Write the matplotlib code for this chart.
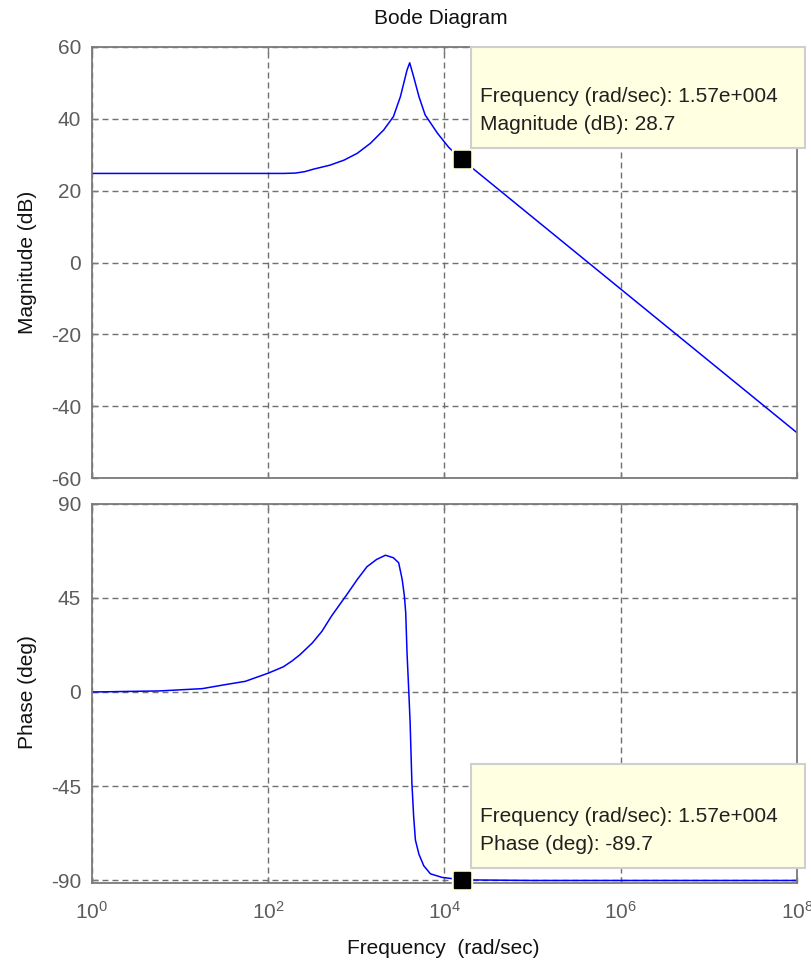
import matplotlib
matplotlib.use("Agg")
import matplotlib.pyplot as plt
from matplotlib.patches import Rectangle

plt.rcParams['font.family'] = ['Liberation Sans', 'DejaVu Sans']
plt.rcParams['mathtext.fontset'] = 'custom'
plt.rcParams['mathtext.rm'] = 'Liberation Sans'
plt.rcParams['axes.unicode_minus'] = False

# Magnitude response (rad/sec, dB)
mag_freq = [1, 150, 204, 260, 327, 501, 724, 1023, 1445, 2042, 2630, 3162, 3758, 4027,
            4467, 5129, 6026, 8318, 11220, 15700, 1e5, 1e6, 1e7, 1e8]
mag_db = [24.8, 24.8, 24.9, 25.3, 26.0, 27.1, 28.5, 30.4, 33.2, 36.9, 40.6, 46.2, 53.6, 55.6,
          51.7, 46.2, 41.1, 36.0, 32.0, 28.7, 12.6, -7.4, -27.4, -47.4]

# Phase response (rad/sec, deg)
phase_freq = [1, 5.8, 17.8, 32.4, 55, 100, 148, 186, 229, 316, 407, 525, 776, 1023,
              1318, 1698, 2138, 2630, 3020, 3311, 3508, 3631, 3758, 3936, 4074,
              4266, 4467, 4677, 5129, 5821, 6918, 9333, 15700, 1e5, 1e8]
phase_deg = [0, 0.5, 1.6, 3.5, 5.1, 9.0, 12.0, 14.8, 17.8, 23.4, 29.0, 36.4, 46.4, 53.7,
             59.8, 63.3, 65.3, 64.1, 61.7, 53.7, 45.7, 37.8, 18.5, 0, -14.8,
             -43.5, -59.5, -70.7, -77.5, -83.0, -86.8, -88.5, -89.7, -90, -90]

# Data tip values
tip_freq = 15700
tip_mag = 28.7
tip_phase = -89.7

mag_ticks = [-60, -40, -20, 0, 20, 40, 60]
phase_ticks = [-90, -45, 0, 45, 90]
freq_ticks = [1, 1e2, 1e4, 1e6, 1e8]
freq_labels = [r'$\mathregular{10^{0}}$', r'$\mathregular{10^{2}}$', r'$\mathregular{10^{4}}$',
               r'$\mathregular{10^{6}}$', r'$\mathregular{10^{8}}$']

W, H = 812, 961
FS = 15
AX_COLOR = '#7a7a7a'
TICK_TXT = '#5c5c5c'
TIP_FACE = '#ffffe1'


def fx(x):
    return x / W


def fy(y):
    return 1 - y / H


fig = plt.figure(figsize=(W / 100, H / 100), dpi=100)
fig.patch.set_facecolor('white')

left, right = 92, 797
ax1 = fig.add_axes([fx(left), fy(478), (right - left) / W, (478 - 47) / H])
ax2 = fig.add_axes([fx(left), fy(883), (right - left) / W, (883 - 503.5) / H])

for ax in (ax1, ax2):
    ax.set_xscale('log')
    ax.set_xlim(1, 1e8)
    ax.set_xticks(freq_ticks)
    ax.minorticks_off()
    ax.grid(True, color='#707070', linestyle=(0, (4.3, 2.9)), linewidth=1.0)
    for sp in ax.spines.values():
        sp.set_color(AX_COLOR)
        sp.set_linewidth(1.3)
    ax.tick_params(direction='in', length=4, width=1.0, color=AX_COLOR,
                   labelsize=FS, labelcolor=TICK_TXT, top=True, right=True)
    ax.set_axisbelow(True)

ax1.plot(mag_freq, mag_db, color='#0000ff', linewidth=1.1)
ax1.set_ylim(-60, 60)
ax1.set_yticks(mag_ticks)
ax1.tick_params(labelbottom=False, pad=8)

ax2.plot(phase_freq, phase_deg, color='#0000ff', linewidth=1.1)
ax2.set_ylim(-91.2, 90)
ax2.set_yticks(phase_ticks)
ax2.set_xticklabels(freq_labels)
ax2.tick_params(axis='y', pad=8)
ax2.tick_params(axis='x', pad=13)

# data tip markers
for ax, val in ((ax1, tip_mag), (ax2, tip_phase)):
    ax.plot([tip_freq], [val], marker='s', markersize=15, color=TIP_FACE,
            linestyle='none', clip_on=False, zorder=5)
    ax.plot([tip_freq], [val], marker='s', markersize=11.5, color='black',
            linestyle='none', clip_on=False, zorder=6)

# data tip boxes
for (y0, y1, t1, t2, line2) in ((47, 148, 97, 125, f'Magnitude (dB): {tip_mag}'),
                                 (764, 868, 817, 845, f'Phase (deg): {tip_phase}')):
    fig.patches.append(Rectangle((fx(471), fy(y1)), (805 - 471) / W, (y1 - y0) / H,
                                 transform=fig.transFigure, facecolor=TIP_FACE,
                                 edgecolor='#cfcfcf', linewidth=1.5, zorder=10))
    fig.text(fx(480), fy(t1), f'Frequency (rad/sec): {tip_freq / 1e4:.2f}e+004',
             fontsize=FS, color='#202020', va='center', ha='left', zorder=11)
    fig.text(fx(480), fy(t2), line2, fontsize=FS, color='#202020',
             va='center', ha='left', zorder=11)

fig.text(fx(441), fy(19), 'Bode Diagram', fontsize=FS, ha='center', va='center', color='#111111')
fig.text(fx(28), fy(262), 'Magnitude (dB)', fontsize=FS, rotation=90,
         ha='center', va='center', color='#111111')
fig.text(fx(28), fy(692), 'Phase (deg)', fontsize=FS, rotation=90,
         ha='center', va='center', color='#111111')
fig.text(fx(443), fy(948), 'Frequency  (rad/sec)', fontsize=FS, ha='center',
         va='center', color='#111111')

fig.savefig('out.png', dpi=100)
